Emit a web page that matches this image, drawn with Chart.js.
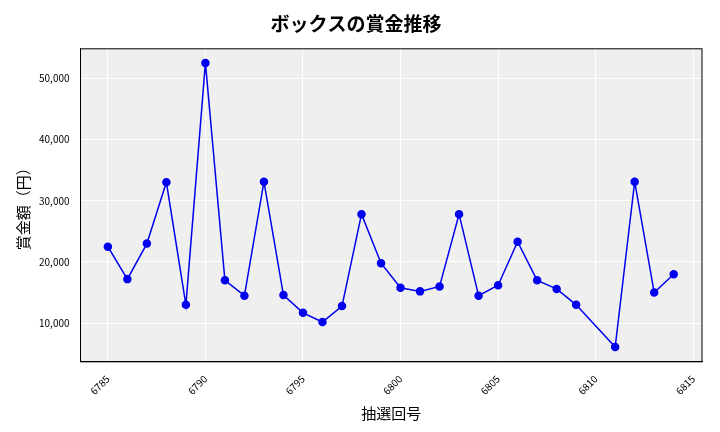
<!DOCTYPE html>
<html><head><meta charset="utf-8">
<script src="https://cdn.jsdelivr.net/npm/chart.js@4"></script>
<style>body{margin:0;background:#fff}#w{width:720px;height:432px}</style>
</head><body><div id="w"><canvas id="c"></canvas></div>
<script>
const draws = [6785,6786,6787,6788,6789,6790,6791,6792,6793,6794,6795,6796,6797,6798,6799,6800,6801,6802,6803,6804,6805,6806,6807,6808,6809,6811,6812,6813,6814];
const prizes = [22500,17200,23000,33000,13000,52500,17000,14500,33100,14600,11700,10200,12800,27800,19800,15800,15200,16000,27800,14500,16200,23300,17000,15600,13000,6100,33100,15000,18000];
const xTicks = [6785,6790,6795,6800,6805,6810,6815];
const yTicks = [10000,20000,30000,40000,50000];
const font = "'Noto Sans CJK JP', sans-serif";

const bg = {
  id: 'bg',
  beforeDraw(chart) {
    const a = chart.chartArea, ctx = chart.ctx;
    ctx.save(); ctx.fillStyle = '#efefef';
    ctx.fillRect(a.left, a.top, a.right - a.left, a.bottom - a.top);
    ctx.restore();
  },
  afterDraw(chart) {
    const a = chart.chartArea, ctx = chart.ctx;
    ctx.save(); ctx.strokeStyle = '#000'; ctx.lineWidth = 1;
    ctx.strokeRect(a.left, a.top, a.right - a.left, a.bottom - a.top);
    ctx.restore();
  }
};
const fixed = (list) => (axis) => { axis.ticks = list.map(v => ({value: v})); };

new Chart(document.getElementById('c'), {
  type: 'line',
  data: {
    datasets: [{
      data: draws.map((d, i) => ({x: d, y: prizes[i]})),
      borderColor: '#0000ee', backgroundColor: '#0000ee',
      borderWidth: 1.5, pointRadius: 3.5, tension: 0
    }]
  },
  options: {
    responsive: true, maintainAspectRatio: false, animation: false,
    layout: {padding: {left: 10, right: 18, top: 4, bottom: 6}},
    plugins: {
      legend: {display: false},
      title: {display: true, text: 'ボックスの賞金推移', color: '#000',
        font: {family: font, size: 19, weight: 'bold'}, padding: {top: 8, bottom: 14}}
    },
    scales: {
      x: {
        type: 'linear', min: 6783.6, max: 6815.45,
        ticks: {maxRotation: 45, minRotation: 45, color: '#000', font: {family: font, size: 10},
          callback: v => String(v)},
        afterBuildTicks: fixed(xTicks),
        grid: {color: '#fff', lineWidth: 1}, border: {color: '#000'},
        title: {display: true, text: '抽選回号', color: '#000', font: {family: font, size: 15}}
      },
      y: {
        min: 3700, max: 54800,
        ticks: {color: '#000', font: {family: font, size: 10},
          callback: v => v.toLocaleString('en-US')},
        afterBuildTicks: fixed(yTicks),
        grid: {color: '#fff', lineWidth: 1}, border: {color: '#000'},
        title: {display: true, text: '賞金額（円）', color: '#000', font: {family: font, size: 15}}
      }
    }
  },
  plugins: [bg]
});
</script></body></html>
